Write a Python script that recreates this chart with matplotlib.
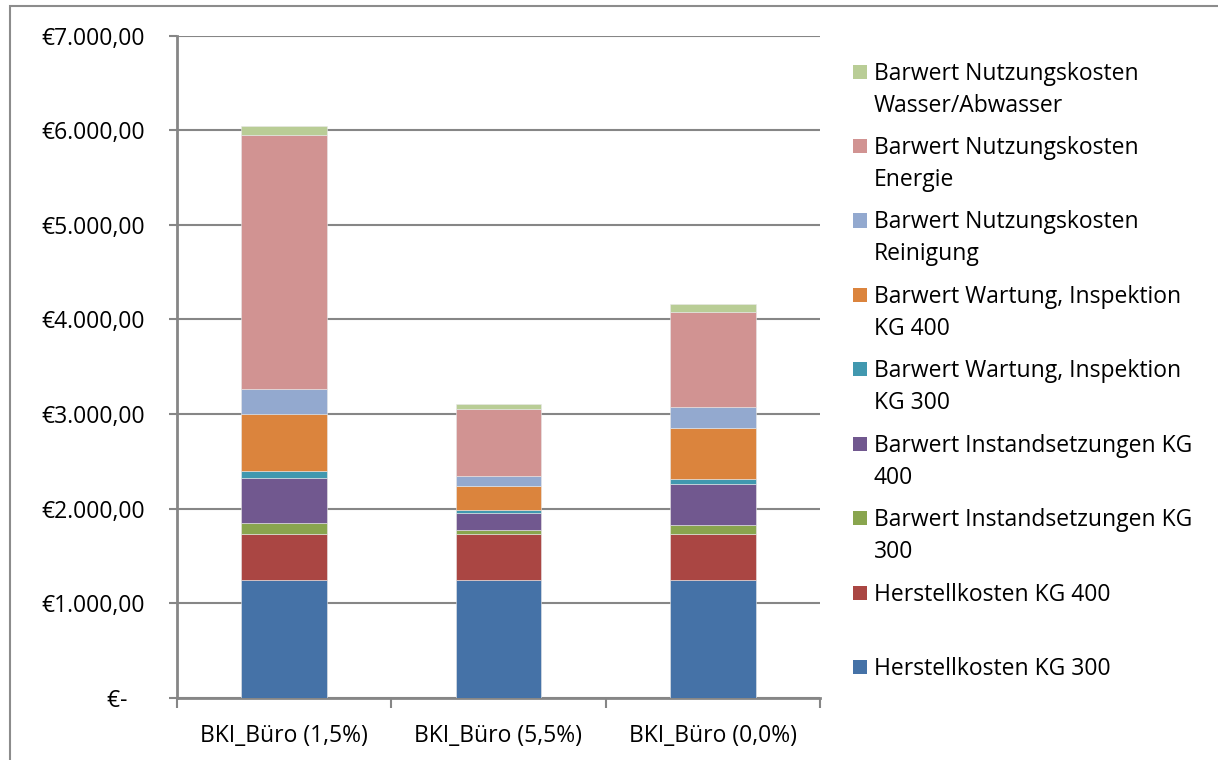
import numpy as np
import matplotlib.pyplot as plt
from matplotlib.patches import Rectangle
from matplotlib.ticker import FuncFormatter

plt.rcParams['font.family'] = ['Open Sans', 'DejaVu Sans']

W, H = 1218, 760

categories = ['BKI_Büro (1,5%)', 'BKI_Büro (5,5%)', 'BKI_Büro (0,0%)']

# series from bottom to top of the stack
herst_300 = [1242, 1242, 1242]
herst_400 = [487, 487, 487]
instand_300 = [116, 43, 98]
instand_400 = [483, 179, 431]
wartung_300 = [68, 32, 56]
wartung_400 = [599, 254, 533]
reinigung = [268, 106, 226]
energie = [2688, 715, 1009]
wasser = [99, 43, 84]

series = [herst_300, herst_400, instand_300, instand_400, wartung_300,
          wartung_400, reinigung, energie, wasser]
labels = [
    ['Herstellkosten KG 300'],
    ['Herstellkosten KG 400'],
    ['Barwert Instandsetzungen KG', '300'],
    ['Barwert Instandsetzungen KG', '400'],
    ['Barwert Wartung, Inspektion', 'KG 300'],
    ['Barwert Wartung, Inspektion', 'KG 400'],
    ['Barwert Nutzungskosten', 'Reinigung'],
    ['Barwert Nutzungskosten', 'Energie'],
    ['Barwert Nutzungskosten', 'Wasser/Abwasser'],
]
colors = ['#4572A7', '#AA4643', '#89A54E', '#71588F', '#4198AF',
          '#DB843D', '#93A9CF', '#D19392', '#B9CD96']

grid_col = '#868686'
fs = 16.5


def fx(px):
    return px / W


def fy(py):
    return 1 - py / H


fig = plt.figure(figsize=(W / 100, H / 100), dpi=100)

# outer chart border (only top and left edges visible)
fig.patches.append(Rectangle((fx(10), fy(1000)), 2, fy(6) - fy(1000),
                             transform=fig.transFigure, fill=False,
                             edgecolor='#8c8c8c', linewidth=1.5))

ax = fig.add_axes([fx(177), fy(697.7), fx(820) - fx(177), fy(35.7) - fy(697.7)])

x = np.arange(len(categories))
bottom = np.zeros(len(categories))
for vals, col in zip(series, colors):
    ax.bar(x, vals, 0.4, bottom=bottom, color=col, edgecolor='#e8e8e8',
           linewidth=0.4, zorder=3)
    bottom += np.array(vals)

ax.set_xlim(-0.5, 2.5)
ax.set_ylim(0, 7000)
ax.set_yticks(np.arange(0, 7001, 1000))


def euro(v, pos):
    if v == 0:
        return '€-   '
    s = f'{v:,.2f}'.replace(',', 'X').replace('.', ',').replace('X', '.')
    return '€' + s


ax.yaxis.set_major_formatter(FuncFormatter(euro))
ax.tick_params(axis='y', length=5.8, width=1.5, color=grid_col, pad=17,
               labelsize=fs)
ax.yaxis.grid(True, color=grid_col, linewidth=1.5, zorder=0)
ax.set_axisbelow(True)

ax.set_xticks([-0.5, 0.5, 1.5, 2.5])
ax.set_xticklabels([])
ax.set_xticks(x, minor=True)
ax.set_xticklabels(categories, minor=True)
ax.tick_params(axis='x', which='major', length=7, width=1.5, color=grid_col)
ax.tick_params(axis='x', which='minor', length=0, pad=19, labelsize=fs)

for side in ['top', 'right']:
    ax.spines[side].set_visible(False)
for side in ['left', 'bottom']:
    ax.spines[side].set_color(grid_col)
    ax.spines[side].set_linewidth(2)

# legend, drawn entry by entry (top entry = last series)
first_y = 71.7
step = 74.4
line_gap = 32
for i, (lab, col) in enumerate(zip(labels[::-1], colors[::-1])):
    yc = first_y + i * step
    fig.patches.append(Rectangle((fx(853), fy(yc + 7)), fx(14), fy(yc - 7) - fy(yc + 7),
                                 transform=fig.transFigure, facecolor=col,
                                 edgecolor='none'))
    for j, line in enumerate(lab):
        fig.text(fx(874), fy(yc + 2 + j * line_gap), line, fontsize=fs,
                 va='center', ha='left', color='black')

fig.savefig('out.png', dpi=100)
